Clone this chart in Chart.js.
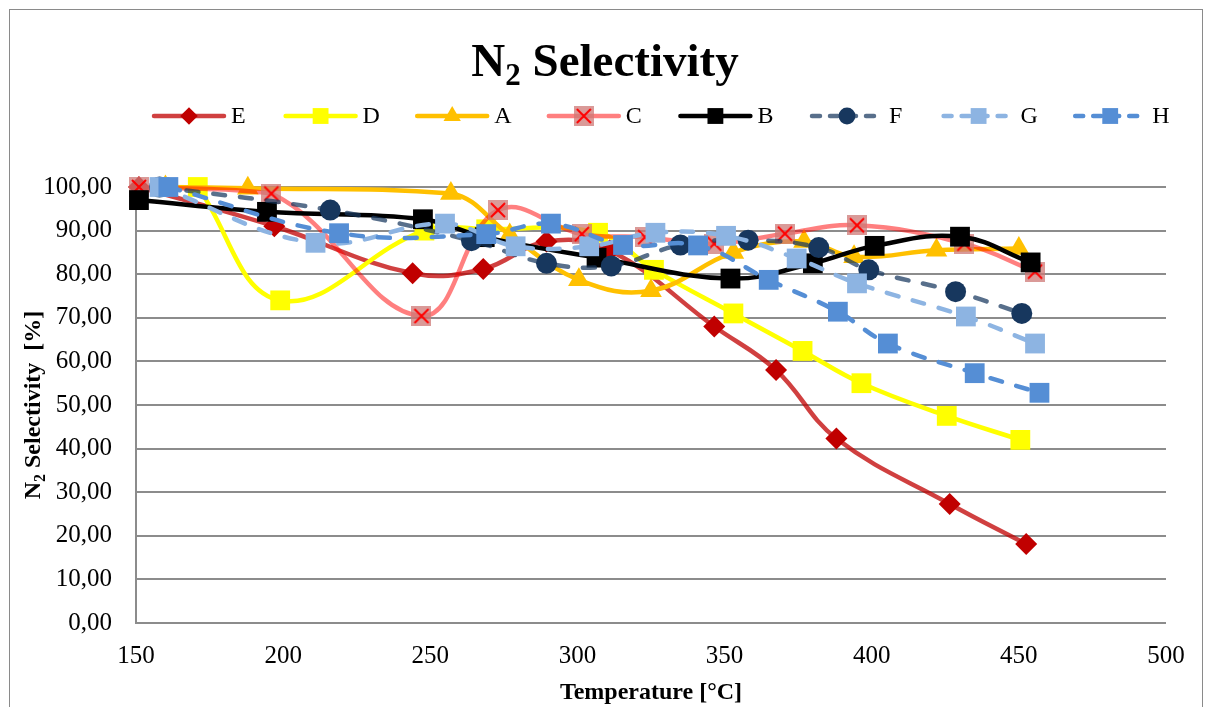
<!DOCTYPE html>
<html>
<head>
<meta charset="utf-8">
<title>N2 Selectivity</title>
<script src="https://cdn.jsdelivr.net/npm/chart.js@4/dist/chart.umd.min.js"></script>
<style>
  html, body { margin: 0; padding: 0; background: #fff; }
  #wrap { position: relative; width: 1207px; height: 707px; overflow: hidden; }
  #wrap canvas { position: absolute; left: 0; top: 0; }
  #frame { position: absolute; left: 9px; top: 9px; width: 1192px; height: 740px; border: 1.5px solid #8a8a8a; pointer-events: none; }
</style>
</head>
<body>
<div id="wrap">
  <canvas id="chart" width="1207" height="707"></canvas>
  <div id="frame"></div>
</div>
<script>
// temperature [°C] and N2 selectivity [%] per sample
const eTemp = [151, 197, 244, 268, 289.5, 311, 346.5, 367.5, 388, 426.5, 452.5];
const eSel  = [100, 91, 80.2, 81.2, 87.5, 85.5, 68, 58, 42.3, 27.3, 18.1];

const dTemp = [171, 199, 248, 269, 307, 326, 353, 376.5, 396.5, 425.5, 450.5];
const dSel  = [100, 74, 90, 90.3, 89.5, 81, 71, 62.4, 55, 47.5, 42];

const aTemp = [160, 188, 257, 277, 300.5, 325, 353, 377, 394, 422, 450];
const aSel  = [100, 99.7, 98.5, 89, 78.7, 76.2, 85, 87.5, 84, 85.5, 85.9];

const cTemp = [151, 196, 247, 273, 301.5, 323, 346.5, 370.5, 395, 431.5, 455.5];
const cSel  = [100, 98.5, 70.4, 94.7, 89.2, 88.5, 87, 89.3, 91.2, 87, 80.6];

const bTemp = [151, 194.5, 247.5, 268.5, 306.5, 352, 380, 401, 430, 454];
const bSel  = [97, 94.3, 92.6, 88.5, 83.8, 79, 82.5, 86.5, 88.6, 82.7];

const fTemp = [158, 216, 264, 289.5, 311.5, 335, 358, 382, 399, 428.5, 451];
const fSel  = [100, 94.7, 87.7, 82.5, 81.9, 86.7, 87.8, 86.1, 81, 76, 71];

const gTemp = [158, 211, 255, 279, 304, 326.5, 350.5, 374.5, 395, 432, 455.5];
const gSel  = [100, 87.2, 91.6, 86.4, 86.4, 89.5, 88.8, 83.6, 77.9, 70.3, 64.1];

const hTemp = [161, 219, 269, 291, 315.5, 341, 365, 388.5, 405.5, 435, 457];
const hSel  = [100, 89.4, 89.2, 91.6, 86.7, 86.6, 78.7, 71.4, 64.1, 57.3, 52.8];

const seriesNames = ['E', 'D', 'A', 'C', 'B', 'F', 'G', 'H'];

const xTicks = [150, 200, 250, 300, 350, 400, 450, 500];
const yTicks = [0, 10, 20, 30, 40, 50, 60, 70, 80, 90, 100];

const FONT = '"Liberation Serif", "Times New Roman", serif';

function pts(t, v) {
  return t.map((x, i) => ({ x: x, y: v[i] }));
}

// pink square with a red cross for series C
function crossMarker(size) {
  const c = document.createElement('canvas');
  c.width = size; c.height = size;
  const g = c.getContext('2d');
  g.fillStyle = 'rgba(205,120,118,0.75)';
  g.fillRect(0, 0, size, size);
  g.strokeStyle = '#ff0000';
  g.lineWidth = 2;
  g.beginPath();
  g.moveTo(3, 3); g.lineTo(size - 3, size - 3);
  g.moveTo(size - 3, 3); g.lineTo(3, size - 3);
  g.stroke();
  return c;
}

function series(label, t, v, line, marker, style, radius, dash) {
  return {
    label: label,
    data: pts(t, v),
    borderColor: line,
    borderWidth: 4.5,
    borderDash: dash || [],
    borderCapStyle: 'round',
    tension: 0.4,
    fill: false,
    clip: false,
    pointStyle: style,
    pointRadius: radius,
    pointHoverRadius: radius,
    pointBackgroundColor: marker,
    pointBorderColor: marker,
    pointBorderWidth: 0
  };
}

const longDash = [12, 15];

const datasets = [
  series('E', eTemp, eSel, 'rgba(192,0,0,0.75)', '#c00000', 'rectRot', 11),
  series('D', dTemp, dSel, '#ffff00', '#ffff00', 'rect', 14),
  series('A', aTemp, aSel, '#ffc000', '#ffc000', 'triangle', 12.5),
  series('C', cTemp, cSel, 'rgba(255,0,0,0.5)', '#d99694', crossMarker(20), 10),
  series('B', bTemp, bSel, '#000000', '#000000', 'rect', 14),
  series('F', fTemp, fSel, 'rgba(23,55,94,0.72)', '#17375e', 'circle', 10.5, longDash),
  series('G', gTemp, gSel, '#8db4e2', '#8db4e2', 'rect', 14, longDash),
  series('H', hTemp, hSel, '#558ed5', '#558ed5', 'rect', 14, longDash)
];
// later series sit on top of earlier ones
datasets.forEach((d, i) => { d.order = datasets.length - i; });

// text with a subscript piece, e.g. N + 2
function drawRich(ctx, parts, x, y, size) {
  const big = 'bold ' + size + 'px ' + FONT;
  const small = 'bold ' + Math.round(size * 0.65) + 'px ' + FONT;
  let total = 0;
  parts.forEach(p => { ctx.font = p[1] ? small : big; total += ctx.measureText(p[0]).width; });
  let cx = x - total / 2;
  ctx.textAlign = 'left';
  ctx.textBaseline = 'alphabetic';
  parts.forEach(p => {
    ctx.font = p[1] ? small : big;
    ctx.fillText(p[0], cx, y + (p[1] ? size * 0.2 : 0));
    cx += ctx.measureText(p[0]).width;
  });
}

const legendStart = 154;
const legendStep = 131.6;
const legendY = 116;
const legendLine = 70;

const textPlugin = {
  id: 'chartText',
  afterDraw(chart) {
    const ctx = chart.ctx;
    const area = chart.chartArea;
    ctx.save();
    ctx.fillStyle = '#000';

    // title
    drawRich(ctx, [['N', false], ['2', true], [' Selectivity', false]], 605, 76, 47);

    // x axis title
    drawRich(ctx, [['Temperature [°C]', false]], (area.left + area.right) / 2, 699, 24);

    // y axis title
    ctx.save();
    ctx.translate(40, (area.top + area.bottom) / 2);
    ctx.rotate(-Math.PI / 2);
    drawRich(ctx, [['N', false], ['2', true], [' Selectivity  [%]', false]], 0, 0, 24);
    ctx.restore();

    // legend: line sample with marker, then the name
    chart.data.datasets.forEach((ds, i) => {
      const x0 = legendStart + i * legendStep;
      ctx.save();
      ctx.strokeStyle = ds.borderColor;
      ctx.lineWidth = ds.borderWidth;
      ctx.lineCap = 'round';
      ctx.setLineDash(ds.borderDash.length ? [8, 10] : []);
      ctx.beginPath();
      ctx.moveTo(x0, legendY);
      ctx.lineTo(x0 + legendLine, legendY);
      ctx.stroke();
      ctx.setLineDash([]);
      ctx.fillStyle = ds.pointBackgroundColor;
      ctx.strokeStyle = ds.pointBackgroundColor;
      ctx.lineWidth = 0;
      Chart.helpers.drawPoint(ctx, {
        pointStyle: ds.pointStyle,
        radius: ds.pointRadius * 0.8,
        rotation: 0,
        borderWidth: 0
      }, x0 + legendLine / 2, legendY);
      ctx.restore();
      ctx.fillStyle = '#000';
      ctx.font = '24px ' + FONT;
      ctx.textAlign = 'left';
      ctx.textBaseline = 'middle';
      ctx.fillText(seriesNames[i], x0 + legendLine + 7, legendY + 1);
    });
    ctx.restore();
  }
};

const gridGray = '#8c8c8c';

new Chart(document.getElementById('chart'), {
  type: 'line',
  data: { datasets: datasets },
  options: {
    responsive: false,
    devicePixelRatio: 1,
    animation: false,
    layout: { padding: { top: 187, right: 41, bottom: 0, left: 0 } },
    plugins: {
      legend: { display: false },
      title: { display: false },
      tooltip: { enabled: false }
    },
    scales: {
      x: {
        type: 'linear',
        min: xTicks[0],
        max: xTicks[xTicks.length - 1],
        afterBuildTicks: s => { s.ticks = xTicks.map(v => ({ value: v })); },
        afterFit: s => { s.height = 84; },
        grid: { display: false, drawTicks: false },
        border: { display: false },
        ticks: {
          padding: 18,
          color: '#000',
          font: { family: FONT, size: 25 },
          maxRotation: 0
        }
      },
      y: {
        type: 'linear',
        min: yTicks[0],
        max: yTicks[yTicks.length - 1],
        afterBuildTicks: s => { s.ticks = yTicks.map(v => ({ value: v })); },
        afterFit: s => { s.width = 136; },
        grid: { color: gridGray, lineWidth: 2, drawTicks: false },
        border: { display: true, color: gridGray, width: 2 },
        ticks: {
          padding: 24,
          color: '#000',
          font: { family: FONT, size: 25 },
          callback: v => v.toFixed(2).replace('.', ',')
        }
      }
    }
  },
  plugins: [textPlugin]
});
</script>
</body>
</html>
